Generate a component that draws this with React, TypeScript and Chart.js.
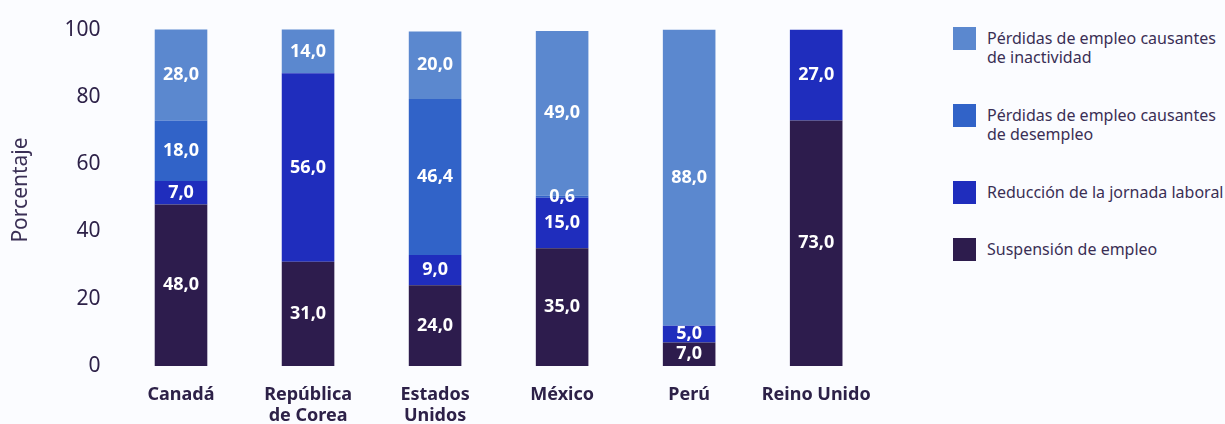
import React, { useEffect, useRef } from "react";
import { Chart, registerables } from "chart.js";

Chart.register(...registerables);

const categories: string[][] = [
  ["Canadá"],
  ["República", "de Corea"],
  ["Estados", "Unidos"],
  ["México"],
  ["Perú"],
  ["Reino Unido"],
];

const suspension = [48, 31, 24, 35, 7, 73];
const reduccion = [7, 56, 9, 15, 5, 27];
const desempleo = [18, 0, 46.4, 0.6, 0, 0];
const inactividad = [28, 14, 20, 49, 88, 0];

const seriesNames = [
  "Suspensión de empleo",
  "Reducción de la jornada laboral",
  "Pérdidas de empleo causantes de desempleo",
  "Pérdidas de empleo causantes de inactividad",
];
const seriesColors = ["#2d1c4d", "#1f2dbd", "#3163c8", "#5b88cf"];

const yTicks = [0, 20, 40, 60, 80, 100];
const yTitle = "Porcentaje";

const legendItems = [
  { name: "Pérdidas de empleo causantes de inactividad", lines: ["Pérdidas de empleo causantes", "de inactividad"], color: seriesColors[3], top: 27 },
  { name: "Pérdidas de empleo causantes de desempleo", lines: ["Pérdidas de empleo causantes", "de desempleo"], color: seriesColors[2], top: 104 },
  { name: "Reducción de la jornada laboral", lines: ["Reducción de la jornada laboral"], color: seriesColors[1], top: 181 },
  { name: "Suspensión de empleo", lines: ["Suspensión de empleo"], color: seriesColors[0], top: 238 },
];

const TEXT = "#2d2148";
const FONT = "'Noto Sans', 'Open Sans', sans-serif";

const valueLabels = {
  id: "valueLabels",
  afterDatasetsDraw(chart: any) {
    const ctx = chart.ctx;
    const area = chart.chartArea;
    ctx.save();
    ctx.fillStyle = "#ffffff";
    ctx.font = `bold 18px ${FONT}`;
    ctx.textAlign = "center";
    ctx.textBaseline = "middle";
    chart.data.datasets.forEach((ds: any, di: number) => {
      const meta = chart.getDatasetMeta(di);
      meta.data.forEach((el: any, i: number) => {
        const v = ds.data[i];
        if (!v) return;
        const top = Math.max(Math.min(el.y, el.base), area.top);
        const bot = Math.min(Math.max(el.y, el.base), area.bottom);
        const cy = (top + bot) / 2;
        ctx.fillText(v.toFixed(1).replace(".", ","), el.x, cy);
      });
    });
    ctx.restore();
  },
};

const yTitlePlugin = {
  id: "yTitlePlugin",
  afterDraw(chart: any) {
    const ctx = chart.ctx;
    ctx.save();
    ctx.translate(21, 190);
    ctx.rotate(-Math.PI / 2);
    ctx.fillStyle = "#3a2f55";
    ctx.font = `21px ${FONT}`;
    ctx.textAlign = "center";
    ctx.textBaseline = "middle";
    ctx.fillText(yTitle, 0, 0);
    ctx.restore();
  },
};

export default function App() {
  const ref = useRef<HTMLCanvasElement>(null);

  useEffect(() => {
    document.body.style.margin = "0";
    document.body.style.overflow = "hidden";
    document.body.style.background = "#fbfcff";
    const seriesData = [suspension, reduccion, desempleo, inactividad];
    const chart = new Chart(ref.current!, {
      type: "bar",
      data: {
        labels: categories,
        datasets: seriesData.map((d, i) => ({
          label: seriesNames[i],
          data: d,
          backgroundColor: seriesColors[i],
          borderWidth: 0,
          barPercentage: 0.414,
          categoryPercentage: 1,
        })),
      },
      options: {
        animation: false,
        responsive: false,
        maintainAspectRatio: false,
        layout: { padding: { top: 28, right: 4.5, left: 0, bottom: 0 } },
        plugins: {
          legend: { display: false },
          tooltip: { enabled: false },
          title: { display: false },
        },
        scales: {
          x: {
            stacked: true,
            grid: { display: false, drawTicks: false },
            border: { display: false },
            ticks: {
              color: TEXT,
              font: { family: FONT, size: 18, weight: "bold", lineHeight: 1.13 },
              padding: 19,
              maxRotation: 0,
              autoSkip: false,
            },
            afterFit: (s: any) => {
              s.height = 58;
            },
          },
          y: {
            stacked: true,
            min: 0,
            max: 100,
            grid: { display: false, drawTicks: false },
            border: { display: false },
            afterBuildTicks: (s: any) => {
              s.ticks = yTicks.map((v) => ({ value: v }));
            },
            ticks: {
              color: TEXT,
              font: { family: FONT, size: 21 },
              padding: 17,
            },
            afterFit: (s: any) => {
              s.width = 117.5;
            },
          },
        },
      },
      plugins: [valueLabels, yTitlePlugin],
    });
    return () => chart.destroy();
  }, []);

  return (
    <div style={{ position: "relative", width: 1225, height: 424, background: "#fbfcff", fontFamily: FONT }}>
      <canvas ref={ref} width={890} height={424} style={{ position: "absolute", left: 0, top: 0, width: 890, height: 424 }} />
      {legendItems.map((it) => (
        <React.Fragment key={it.name}>
          <div
            style={{
              position: "absolute",
              left: 953,
              top: it.top,
              width: 23,
              height: 23,
              background: it.color,
            }}
          />
          <div
            style={{
              position: "absolute",
              left: 987,
              top: it.top + 1.5,
              fontSize: 16,
              lineHeight: "19px",
              color: "#3a2f55",
              whiteSpace: "nowrap",
            }}
          >
            {it.lines.map((l) => (
              <div key={l}>{l}</div>
            ))}
          </div>
        </React.Fragment>
      ))}
    </div>
  );
}
